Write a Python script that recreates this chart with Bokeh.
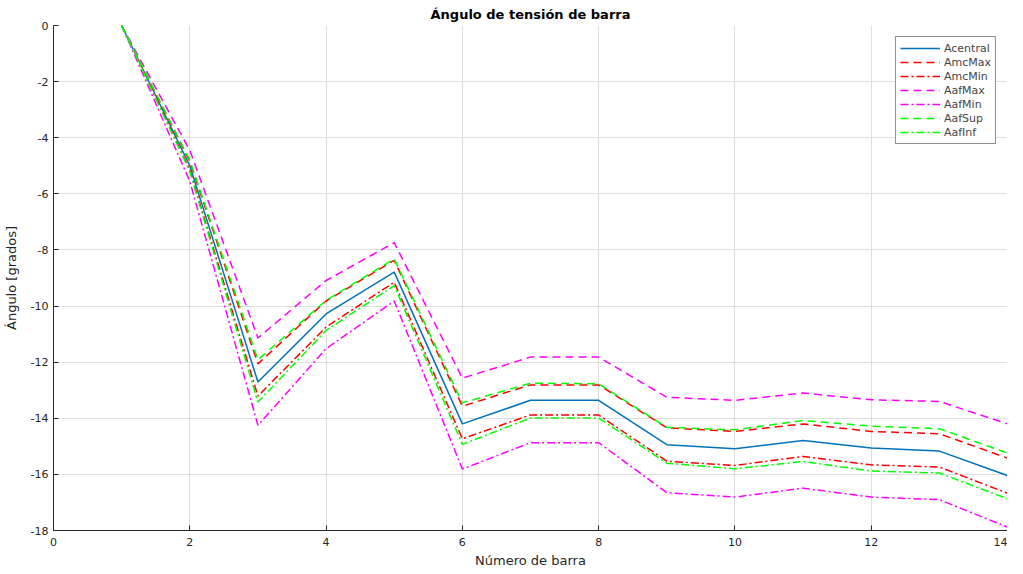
from bokeh.plotting import figure
from bokeh.models import Legend, LegendItem, FixedTicker
from bokeh.embed import file_html
from bokeh.resources import INLINE

barras = list(range(1, 15))
Acentral = [0, -5.0, -12.71, -10.28, -8.79, -14.20, -13.36, -13.36, -14.94, -15.09, -14.79, -15.06, -15.17, -16.04]
AmcMax   = [0, -4.85, -12.06, -9.82, -8.37, -13.57, -12.81, -12.81, -14.34, -14.47, -14.20, -14.47, -14.55, -15.42]
AmcMin   = [0, -5.15, -13.21, -10.75, -9.15, -14.73, -13.88, -13.88, -15.53, -15.68, -15.36, -15.66, -15.74, -16.67]
AafMax   = [0, -4.45, -11.14, -9.09, -7.74, -12.57, -11.82, -11.82, -13.25, -13.36, -13.10, -13.34, -13.40, -14.20]
AafMin   = [0, -5.55, -14.25, -11.52, -9.82, -15.81, -14.87, -14.87, -16.65, -16.81, -16.49, -16.81, -16.90, -17.88]
AafSup   = [0, -4.80, -11.92, -9.80, -8.32, -13.45, -12.75, -12.77, -14.32, -14.41, -14.08, -14.28, -14.37, -15.24]
AafInf   = [0, -5.20, -13.42, -10.87, -9.27, -14.93, -13.99, -13.99, -15.60, -15.80, -15.54, -15.88, -15.95, -16.87]

x_ticks = [0, 2, 4, 6, 8, 10, 12, 14]
y_ticks = [0, -2, -4, -6, -8, -10, -12, -14, -16, -18]
y_tick_labels = ["0", "-2", "-4", "-6", "-8", "-10", "-12", "-14", "-16", "-18"]

series = [
    ("Acentral", Acentral, "#0072BD", "solid"),
    ("AmcMax", AmcMax, "#FF0000", "8 5"),
    ("AmcMin", AmcMin, "#FF0000", "8 3 2 3"),
    ("AafMax", AafMax, "#FF00FF", "8 5"),
    ("AafMin", AafMin, "#FF00FF", "8 3 2 3"),
    ("AafSup", AafSup, "#00FF00", "8 5"),
    ("AafInf", AafInf, "#00FF00", "8 3 2 3"),
]

FONT = "DejaVu Sans"
p = figure(width=1007, height=570, output_backend="svg", toolbar_location=None,
           x_range=(0, 14), y_range=(-18, 0),
           min_border_left=0, min_border_right=0, min_border_top=0, min_border_bottom=0,
           title="Ángulo de tensión de barra")
p.title.align = "center"
p.title.text_font = FONT
p.title.text_font_size = "13px"
p.title.text_font_style = "bold"
p.title.text_color = "#000000"
p.title.standoff = 8
p.title.offset = 0

items = []
for name, vals, color, dash in series:
    r = p.line(barras, vals, line_color=color, line_width=1.5, line_dash=dash)
    items.append(LegendItem(label=name, renderers=[r]))

legend = Legend(items=items, location="top_right", margin=11,
                padding=4, spacing=0, label_height=14, glyph_height=14, glyph_width=40,
                label_standoff=4, label_text_font=FONT, label_text_font_size="11px",
                border_line_color="#262626", border_line_width=1,
                background_fill_color="white", background_fill_alpha=1.0)
p.add_layout(legend, "center")

for ax in (p.xaxis[0], p.yaxis[0]):
    ax.major_tick_in = 5
    ax.major_tick_out = 0
    ax.minor_tick_in = 0
    ax.minor_tick_out = 0
    ax.axis_line_color = "#262626"
    ax.major_tick_line_color = "#262626"
    ax.major_label_text_font = FONT
    ax.major_label_text_font_size = "11px"
    ax.major_label_text_color = "#262626"
    ax.axis_label_text_font = FONT
    ax.axis_label_text_font_size = "13px"
    ax.axis_label_text_font_style = "normal"
    ax.axis_label_text_color = "#262626"

p.xaxis.ticker = FixedTicker(ticks=x_ticks)
p.yaxis.ticker = FixedTicker(ticks=y_ticks)
p.yaxis.major_label_overrides = {t: s for t, s in zip(y_ticks, y_tick_labels)}
p.xaxis.axis_label = "Número de barra"
p.yaxis.axis_label = "Ángulo [grados]"
p.xaxis.major_label_standoff = 7
p.yaxis.major_label_standoff = 5
p.xaxis.axis_label_standoff = 4
p.yaxis.axis_label_standoff = 9

p.xgrid.ticker = FixedTicker(ticks=x_ticks)
p.ygrid.ticker = FixedTicker(ticks=y_ticks)
p.grid.grid_line_color = "#dedede"
p.grid.grid_line_width = 1
p.outline_line_color = None

open("out.html", "w").write(file_html(p, INLINE))
